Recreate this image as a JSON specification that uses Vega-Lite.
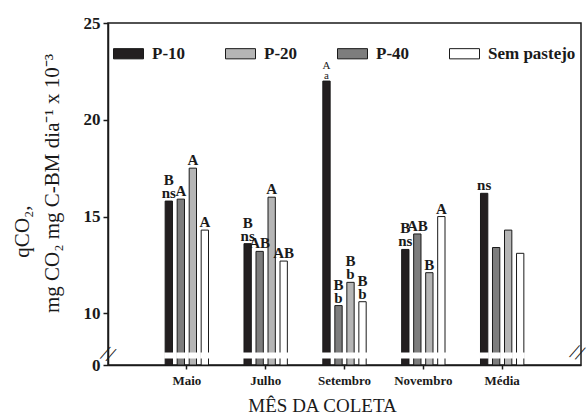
{
  "$schema": "https://vega.github.io/schema/vega-lite/v6.json",
  "width": 473,
  "height": 342,
  "autosize": {"type": "none"},
  "padding": {"left": 108, "top": 23, "right": 6, "bottom": 52},
  "background": "white",
  "config": {
    "view": {"stroke": "#1a1a1a", "strokeWidth": 1.5},
    "font": "Liberation Serif",
    "axis": {
      "labelFont": "Liberation Serif",
      "titleFont": "Liberation Serif",
      "labelColor": "#1a1a1a",
      "titleColor": "#1a1a1a",
      "domainColor": "#1a1a1a",
      "tickColor": "#1a1a1a",
      "domainWidth": 1.5,
      "tickWidth": 1.5,
      "grid": false
    },
    "legend": {
      "labelFont": "Liberation Serif",
      "labelFontSize": 17,
      "labelFontWeight": "bold",
      "labelColor": "#1a1a1a"
    }
  },
  "data": {
    "values": [
      {"mes": "Maio", "trat": "P-10", "valor": 15.8, "letra": "B\nns"},
      {"mes": "Maio", "trat": "P-40", "valor": 15.9, "letra": "A"},
      {"mes": "Maio", "trat": "P-20", "valor": 17.5, "letra": "A"},
      {"mes": "Maio", "trat": "Sem pastejo", "valor": 14.3, "letra": "A"},
      {"mes": "Julho", "trat": "P-10", "valor": 13.6, "letra": "B\nns"},
      {"mes": "Julho", "trat": "P-40", "valor": 13.2, "letra": "AB"},
      {"mes": "Julho", "trat": "P-20", "valor": 16.0, "letra": "A"},
      {"mes": "Julho", "trat": "Sem pastejo", "valor": 12.7, "letra": "AB"},
      {"mes": "Setembro", "trat": "P-10", "valor": 22.0, "letra": "A\na"},
      {"mes": "Setembro", "trat": "P-40", "valor": 10.4, "letra": "B\nb"},
      {"mes": "Setembro", "trat": "P-20", "valor": 11.6, "letra": "B\nb"},
      {"mes": "Setembro", "trat": "Sem pastejo", "valor": 10.6, "letra": "B\nb"},
      {"mes": "Novembro", "trat": "P-10", "valor": 13.3, "letra": "B\nns"},
      {"mes": "Novembro", "trat": "P-40", "valor": 14.1, "letra": "AB"},
      {"mes": "Novembro", "trat": "P-20", "valor": 12.1, "letra": "B"},
      {"mes": "Novembro", "trat": "Sem pastejo", "valor": 15.0, "letra": "A"},
      {"mes": "Média", "trat": "P-10", "valor": 16.2, "letra": "ns"},
      {"mes": "Média", "trat": "P-40", "valor": 13.4, "letra": ""},
      {"mes": "Média", "trat": "P-20", "valor": 14.3, "letra": ""},
      {"mes": "Média", "trat": "Sem pastejo", "valor": 13.1, "letra": ""}
    ]
  },
  "layer": [
    {
      "encoding": {
        "x": {
          "field": "mes",
          "type": "nominal",
          "sort": ["Maio", "Julho", "Setembro", "Novembro", "Média"],
          "scale": {"paddingInner": 0.45, "paddingOuter": 0.725},
          "axis": {
            "title": "MÊS DA COLETA",
            "labelAngle": 0,
            "labelFontWeight": "bold",
            "labelFontSize": 13,
            "tickSize": 4,
            "labelPadding": 5,
            "titleFontSize": 19,
            "titleFontWeight": "normal",
            "titlePadding": 9,
            "titleX": 214
          }
        },
        "xOffset": {
          "field": "trat",
          "type": "nominal",
          "scale": {"domain": ["P-10", "P-40", "P-20", "Sem pastejo"], "paddingInner": 0.39, "paddingOuter": 0}
        },
        "y": {
          "field": "valor",
          "type": "quantitative",
          "scale": {"domain": [7.33, 25], "nice": false, "zero": false, "clamp": true},
          "axis": {
            "values": [7.33, 10, 15, 20, 25],
            "labelExpr": "datum.value < 9 ? '0' : format(datum.value, 'd')",
            "labelFontSize": 17,
            "labelFontWeight": "bold",
            "tickSize": 5,
            "labelPadding": 3,
            "title": "mg CO₂ mg C-BM dia⁻¹ x 10⁻³",
            "titleFontSize": 21,
            "titleFontWeight": "normal",
            "titlePadding": 21,
            "titleY": 160
          }
        }
      },
      "layer": [
        {
          "mark": {"type": "bar", "stroke": "#1a1a1a", "strokeWidth": 1},
          "encoding": {
            "color": {
              "field": "trat",
              "type": "nominal",
              "scale": {
                "domain": ["P-10", "P-20", "P-40", "Sem pastejo"],
                "range": ["#231f20", "#b5b5b5", "#7d7d7d", "#ffffff"]
              },
              "legend": {
                "title": null,
                "orient": "none",
                "legendX": 5,
                "legendY": 15,
                "direction": "horizontal",
                "columnPadding": 37,
                "labelOffset": 8,
                "symbolType": "M-1,-0.34H1V0.34H-1Z",
                "symbolSize": 900,
                "symbolStrokeColor": "#1a1a1a",
                "symbolStrokeWidth": 1,
                "symbolOpacity": 1
              }
            }
          }
        },
        {
          "mark": {"type": "bar", "fill": "white", "stroke": "white", "strokeWidth": 2},
          "encoding": {
            "y": {"datum": 7.92, "type": "quantitative"},
            "y2": {"datum": 7.72}
          }
        },
        {
          "transform": [{"filter": "indexof(datum.letra, '\\n') < 0"}],
          "mark": {"type": "text", "baseline": "bottom", "align": "center", "fontWeight": "bold", "fontSize": 15, "font": "Liberation Serif", "color": "#1a1a1a"},
          "encoding": {
            "text": {"field": "letra", "type": "nominal"}
          }
        },
        {
          "transform": [{"filter": "indexof(datum.letra, '\\n') >= 0 && (datum.mes != 'Setembro' || datum.trat != 'P-10')"}],
          "mark": {"type": "text", "baseline": "bottom", "align": "center", "fontWeight": "bold", "fontSize": 15, "lineHeight": 13, "dy": -13, "lineBreak": "\n", "font": "Liberation Serif", "color": "#1a1a1a"},
          "encoding": {
            "text": {"field": "letra", "type": "nominal"}
          }
        },
        {
          "transform": [{"filter": "datum.mes == 'Setembro' && datum.trat == 'P-10'"}],
          "mark": {"type": "text", "baseline": "bottom", "align": "center", "fontWeight": "normal", "fontSize": 11, "lineHeight": 10, "dy": -10, "lineBreak": "\n", "font": "Liberation Serif", "color": "#1a1a1a"},
          "encoding": {
            "text": {"field": "letra", "type": "nominal"}
          }
        }
      ]
    },
    {
      "data": {"values": [{}]},
      "encoding": {
        "y": {
          "datum": 7.9,
          "type": "quantitative",
          "scale": {"domain": [7.33, 25], "nice": false, "zero": false, "clamp": true},
          "axis": {
            "orient": "left",
            "domain": false,
            "ticks": false,
            "labels": false,
            "grid": false,
            "title": "qCO₂,",
            "titleFontSize": 21,
            "titleFontWeight": "normal",
            "titlePadding": 76,
            "titleY": 208
          }
        }
      },
      "layer": [
        {
          "mark": {"type": "text", "text": "//", "fontSize": 22, "angle": 22, "font": "Liberation Serif", "baseline": "middle", "align": "center", "color": "#1a1a1a"},
          "encoding": {
            "x": {"datum": 0, "type": "quantitative", "scale": {"domain": [0, 1]}, "axis": {"orient": "top", "domain": false, "ticks": false, "labels": false, "grid": false, "title": null}}
          }
        },
        {
          "mark": {"type": "text", "text": "//", "fontSize": 22, "angle": 22, "dx": -4, "font": "Liberation Serif", "baseline": "middle", "align": "center", "color": "#1a1a1a"},
          "encoding": {
            "x": {"datum": 1, "type": "quantitative", "scale": {"domain": [0, 1]}}
          }
        }
      ]
    }
  ],
  "resolve": {"scale": {"x": "independent", "y": "independent"}}
}
